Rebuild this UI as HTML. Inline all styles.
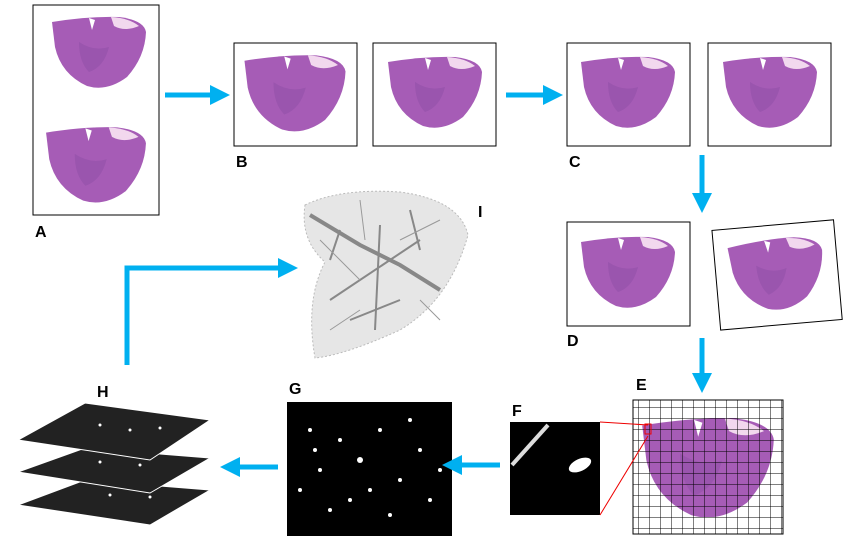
<!DOCTYPE html>
<html><head><meta charset="utf-8"><style>
body{margin:0;background:#fff;width:863px;height:544px;overflow:hidden}
text{font-family:"Liberation Sans",sans-serif;font-weight:bold;font-size:16px;fill:#000}
</style></head><body>
<svg width="863" height="544" viewBox="0 0 863 544">
<defs>
<symbol id="tissue" viewBox="0 0 100 80">
<path d="M3,10 Q40,4 70,5 Q95,8 97,20 Q96,45 78,65 Q58,80 38,74 Q12,62 6,35 Z" fill="#a65cb6"/>
<path d="M30,30 Q45,40 60,35 Q55,55 40,60 Q30,50 30,30Z" fill="#8e4ea6" opacity="0.5"/>
<path d="M62,5 Q80,6 90,14 Q76,20 65,14Z" fill="#f2d8ee"/>
<path d="M40,6 L43,18 L46,8Z" fill="#fff"/>
</symbol>
<marker id="ah" markerWidth="4" markerHeight="4" refX="2" refY="2" orient="auto"><path d="M0,0 L4,2 L0,4Z" fill="#00b0f0"/></marker>
<pattern id="grid" width="11" height="11" patternUnits="userSpaceOnUse"><path d="M11,0 L0,0 0,11" fill="none" stroke="#000" stroke-width="1"/></pattern>
</defs>
<g>
<rect x="33" y="5" width="126" height="210" fill="#fff" stroke="#000"/>
<use href="#tissue" x="45" y="12" width="108" height="80"/>
<use href="#tissue" x="40" y="122" width="112" height="85"/>
<text x="35" y="237">A</text></g>
<g>
<rect x="234" y="43" width="123" height="103" fill="#fff" stroke="#000"/>
<use href="#tissue" x="240" y="50" width="110" height="86"/>
<rect x="373" y="43" width="123" height="103" fill="#fff" stroke="#000"/>
<use href="#tissue" x="385" y="52" width="100" height="80"/>
<text x="236" y="167">B</text></g>
<g>
<rect x="567" y="43" width="123" height="103" fill="#fff" stroke="#000"/>
<use href="#tissue" x="578" y="52" width="100" height="80"/>
<rect x="708" y="43" width="123" height="103" fill="#fff" stroke="#000"/>
<use href="#tissue" x="720" y="52" width="100" height="80"/>
<text x="569" y="167">C</text></g>
<g>
<rect x="567" y="222" width="123" height="104" fill="#fff" stroke="#000"/>
<use href="#tissue" x="578" y="232" width="100" height="80"/>
<g transform="rotate(-5 776 274)"><rect x="716" y="225" width="122" height="100" fill="#fff" stroke="#000"/>
<use href="#tissue" x="727" y="234" width="100" height="80"/></g>
<text x="567" y="346">D</text></g>
<g>
<use href="#tissue" x="638" y="410" width="140" height="115"/>
<rect x="633" y="400" width="150" height="134" fill="url(#grid)" stroke="#000"/>
<text x="636" y="390">E</text></g>
<g>
<rect x="510" y="422" width="90" height="93" fill="#000"/>
<path d="M512,465 L548,425" stroke="#ddd" stroke-width="4"/>
<ellipse cx="580" cy="465" rx="12" ry="6" fill="#fff" transform="rotate(-25 580 465)"/>
<path d="M600,422 L648,425 M600,515 L648,436" stroke="#e00" stroke-width="1"/>
<rect x="645" y="424" width="6" height="10" fill="none" stroke="#e00"/>
<text x="512" y="416">F</text></g>
<g>
<rect x="287" y="402" width="165" height="134" fill="#000"/>
<g fill="#fff">
<circle cx="310" cy="430" r="2"/><circle cx="340" cy="440" r="2"/><circle cx="320" cy="470" r="2"/><circle cx="360" cy="460" r="3"/>
<circle cx="380" cy="430" r="2"/><circle cx="400" cy="480" r="2"/><circle cx="420" cy="450" r="2"/><circle cx="350" cy="500" r="2"/>
<circle cx="330" cy="510" r="2"/><circle cx="390" cy="515" r="2"/><circle cx="430" cy="500" r="2"/><circle cx="300" cy="490" r="2"/>
<circle cx="410" cy="420" r="2"/><circle cx="370" cy="490" r="2"/><circle cx="440" cy="470" r="2"/><circle cx="315" cy="450" r="2"/></g>
<text x="289" y="394">G</text></g>
<g>
<path d="M18,505 L85,480 L210,490 L150,525 Z" fill="#222" stroke="#fff"/>
<path d="M18,472 L85,448 L210,458 L150,493 Z" fill="#222" stroke="#fff"/>
<path d="M18,440 L85,403 L210,420 L150,460 Z" fill="#222" stroke="#fff"/>
<g fill="#fff"><circle cx="100" cy="425" r="1.5"/><circle cx="130" cy="430" r="1.5"/><circle cx="160" cy="428" r="1.5"/><circle cx="100" cy="462" r="1.5"/><circle cx="140" cy="465" r="1.5"/><circle cx="110" cy="495" r="1.5"/><circle cx="150" cy="497" r="1.5"/></g>
<text x="97" y="397">H</text></g>
<g>
<path d="M305,205 Q340,188 400,192 Q460,200 468,235 Q450,300 400,330 Q345,355 315,358 Q305,300 325,262 Q300,240 305,205 Z" fill="#e6e6e6" stroke="#bbb" stroke-dasharray="2 2"/>
<g stroke="#888" fill="none">
<path d="M310,215 L360,245 L400,265 L440,290" stroke-width="4"/>
<path d="M380,225 L375,330 M330,300 L420,240 M340,230 L330,260 M410,210 L420,250 M350,320 L400,300" stroke-width="2"/>
<path d="M320,240 L360,280 M440,220 L400,240 M360,200 L365,240 M420,300 L440,320 M330,330 L360,310" stroke-width="1" stroke="#999"/>
</g>
<text x="478" y="217">I</text></g>
<g stroke="#00b0f0" stroke-width="5" fill="none" marker-end="url(#ah)">
<path d="M165,95 L220,95"/><path d="M506,95 L553,95"/>
<path d="M702,155 L702,203"/><path d="M702,338 L702,383"/>
<path d="M500,465 L452,465"/><path d="M278,467 L230,467"/>
<path d="M127,365 L127,268 L288,268"/>
</g>
</svg>
</body></html>
